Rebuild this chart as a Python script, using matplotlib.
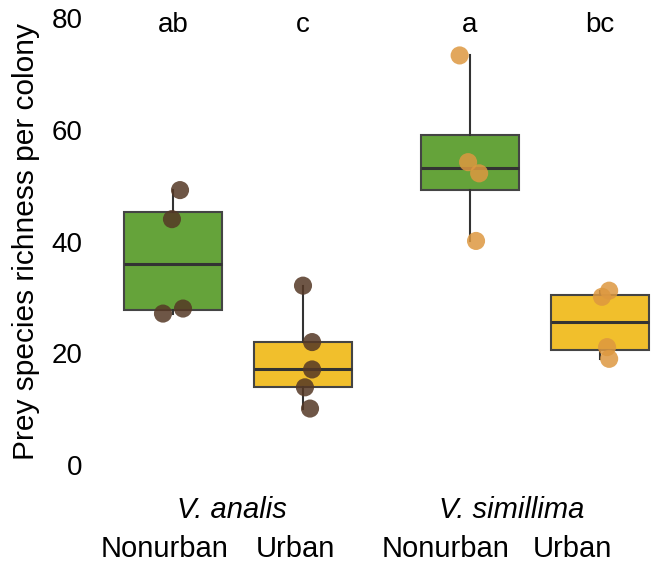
"""
Prey species richness per colony: V. analis vs V. simillima, nonurban vs urban
"""
import matplotlib
matplotlib.use('Agg')
import matplotlib.pyplot as plt
import numpy as np

plt.rcParams['font.family'] = ['Liberation Sans', 'DejaVu Sans']

species = ['V. analis', 'V. simillima']
habitats = ['Nonurban', 'Urban']
letters = ['ab', 'c', 'a', 'bc']

# values, one list per box
analis_nonurban = [49.2, 44.0, 28.0, 27.1]
analis_urban = [32.1, 22.0, 17.1, 13.9, 10.1]
simillima_nonurban = [73.3, 54.2, 52.2, 40.1]
simillima_urban = [31.2, 30.1, 21.1, 19.0]
# horizontal jitter of each dot as seen in the picture
jit_an = [0.054, -0.008, 0.077, -0.077]
jit_au = [0.0, 0.07, 0.07, 0.015, 0.054]
jit_sn = [-0.08, -0.015, 0.07, 0.046]
jit_su = [0.07, 0.015, 0.054, 0.07]

groups = [analis_nonurban, analis_urban, simillima_nonurban, simillima_urban]
jitters = [jit_an, jit_au, jit_sn, jit_su]
positions = [0, 1, 2.285, 3.285]
box_colors = ['#65a33a', '#f1bf2c', '#65a33a', '#f1bf2c']
dot_colors = ['#553825', '#553825', '#dd9840', '#dd9840']

W, H = 652, 569
fig = plt.figure(figsize=(W / 100, H / 100), dpi=100)
left_px = 92
ax = fig.add_axes([left_px / W, 1 - 465 / H, 1 - left_px / W, (465 - 18) / H])

bp = ax.boxplot(groups, positions=positions, widths=0.75, patch_artist=True,
                showcaps=False, showfliers=False, whis=1.5,
                medianprops=dict(color='#333333', linewidth=2.2),
                boxprops=dict(edgecolor='#444444', linewidth=1.5),
                whiskerprops=dict(color='#333333', linewidth=1.5))
for patch, c in zip(bp['boxes'], box_colors):
    patch.set_facecolor(c)

for vals, jit, pos, c in zip(groups, jitters, positions, dot_colors):
    ax.scatter(pos + np.array(jit), vals, s=170, color=c, alpha=0.85,
               edgecolor='none', zorder=5, clip_on=False)

# significance letters, baseline a little under the 80 line
for pos, lab in zip(positions, letters):
    ax.text(pos, 77.5, lab, ha='center', va='baseline', fontsize=20)

ax.set_ylim(0, 80)
ax.set_xlim((left_px - 173) / 130, (W - 173) / 130)
ax.set_yticks([0, 20, 40, 60, 80])
ax.set_xticks([])
ax.tick_params(axis='y', length=0, pad=7, labelsize=20)
for s in ax.spines.values():
    s.set_visible(False)
ax.set_ylabel('Prey species richness per colony', fontsize=21.5, labelpad=8)

# group labels under the boxes (pixel centres)
lab_px = [165, 295, 446, 572]
for x, h in zip(lab_px, habitats * 2):
    fig.text(x / W, 1 - 549 / H, h, ha='center', va='center', fontsize=21)
for x, sp in zip([232, 512], species):
    fig.text(x / W, 1 - 510 / H, sp, ha='center', va='center', fontsize=21,
             style='italic')

fig.savefig('out.png', dpi=100)
print("saved: out.png")
